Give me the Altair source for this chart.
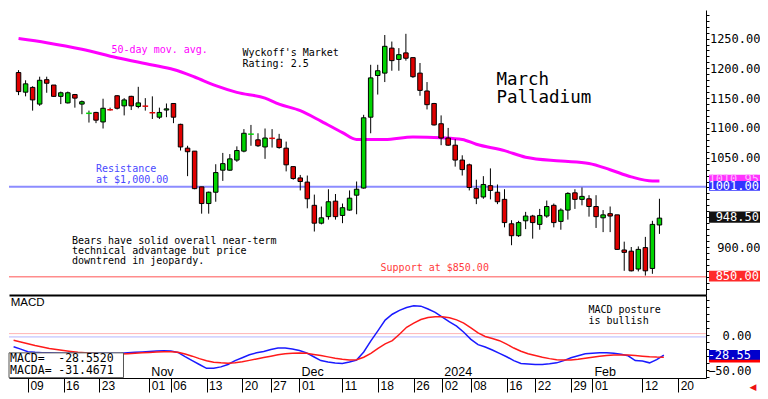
import json
import altair as alt
import pandas as pd

# ---------------- data ----------------
dates = [
    "2023-10-05", "2023-10-06", "2023-10-09", "2023-10-10", "2023-10-11", "2023-10-12", "2023-10-13",
    "2023-10-16", "2023-10-17", "2023-10-18", "2023-10-19", "2023-10-20", "2023-10-23", "2023-10-24",
    "2023-10-25", "2023-10-26", "2023-10-27", "2023-10-30", "2023-10-31",
    "2023-11-01", "2023-11-02", "2023-11-03", "2023-11-06", "2023-11-07", "2023-11-08", "2023-11-09",
    "2023-11-10", "2023-11-13", "2023-11-14", "2023-11-15", "2023-11-16", "2023-11-17", "2023-11-20",
    "2023-11-21", "2023-11-22", "2023-11-24", "2023-11-27", "2023-11-28", "2023-11-29", "2023-11-30",
    "2023-12-01", "2023-12-04", "2023-12-05", "2023-12-06", "2023-12-07", "2023-12-08", "2023-12-11",
    "2023-12-12", "2023-12-13", "2023-12-14", "2023-12-15", "2023-12-18", "2023-12-19", "2023-12-20",
    "2023-12-21", "2023-12-22", "2023-12-26", "2023-12-27", "2023-12-28", "2023-12-29",
    "2024-01-02", "2024-01-03", "2024-01-04", "2024-01-05", "2024-01-08", "2024-01-09", "2024-01-10",
    "2024-01-11", "2024-01-12", "2024-01-16", "2024-01-17", "2024-01-18", "2024-01-19", "2024-01-22",
    "2024-01-23", "2024-01-24", "2024-01-25", "2024-01-26", "2024-01-29", "2024-01-30", "2024-01-31",
    "2024-02-01", "2024-02-02", "2024-02-05", "2024-02-06", "2024-02-07", "2024-02-08", "2024-02-09",
    "2024-02-12", "2024-02-13", "2024-02-14", "2024-02-15",
]

opens = [1193, 1160, 1168, 1140, 1181, 1172, 1153, 1142, 1156, 1140,
         1124, 1126, 1110, 1131, 1154, 1137, 1153, 1136, 1137, 1126,
         1118, 1130, 1141, 1106, 1066, 1061, 1001, 973, 992, 1029,
         1029, 1046, 1061, 1089, 1080, 1068, 1083, 1081, 1066, 1035,
         1016, 1009, 970, 940, 951, 977, 953, 962, 987, 999,
         1118, 1188, 1192, 1234, 1215, 1226, 1218, 1192, 1162, 1141,
         1107, 1083, 1071, 1046, 1038, 998, 984, 1003, 992, 980,
         939, 919, 944, 952, 938, 952, 970, 943, 962, 991,
         980, 981, 968, 949, 956, 954, 895, 893, 863, 899,
         864, 937]
highs = [1197, 1180, 1170, 1186, 1186, 1172, 1161, 1161, 1157, 1146,
         1129, 1127, 1149, 1134, 1155, 1150, 1154, 1169, 1150, 1153,
         1134, 1141, 1141, 1107, 1070, 1061, 1001, 993, 1039, 1058,
         1056, 1069, 1098, 1105, 1091, 1099, 1098, 1090, 1077, 1035,
         1021, 1020, 988, 968, 997, 989, 973, 995, 1010, 1122,
         1206, 1206, 1256, 1245, 1234, 1258, 1218, 1209, 1177, 1142,
         1121, 1100, 1081, 1054, 1040, 1013, 1019, 1032, 1005, 997,
         945, 944, 959, 954, 964, 978, 973, 965, 992, 997,
         1000, 987, 987, 962, 968, 954, 909, 900, 901, 917,
         944, 981]
lows = [1155, 1153, 1129, 1137, 1159, 1152, 1140, 1141, 1134, 1123,
        1109, 1108, 1099, 1129, 1131, 1121, 1130, 1133, 1129, 1115,
        1115, 1118, 1108, 1062, 1019, 997, 956, 956, 976, 1011,
        1028, 1043, 1059, 1070, 1068, 1048, 1067, 1065, 1027, 1013,
        995, 965, 926, 938, 946, 946, 940, 961, 955, 998,
        1091, 1156, 1177, 1196, 1196, 1213, 1184, 1154, 1131, 1104,
        1071, 1070, 1035, 1020, 995, 972, 981, 980, 972, 933,
        903, 917, 930, 914, 929, 949, 933, 929, 946, 964,
        970, 951, 932, 925, 925, 895, 860, 859, 859, 852,
        855, 922]
closes = [1161, 1174, 1147, 1180, 1175, 1153, 1159, 1159, 1150, 1144,
          1124.5, 1113, 1133, 1130.5, 1133, 1147, 1137, 1142, 1136.5, 1125.5,
          1126, 1132, 1118, 1068, 1060, 998, 973, 992, 1025, 1040,
          1048, 1062, 1091, 1089.5, 1070, 1083, 1082.5, 1067, 1038, 1015,
          1010, 981, 940, 949, 976, 951, 966, 982, 997, 1117,
          1184, 1196, 1237, 1213, 1223, 1217, 1186, 1163, 1139, 1105,
          1083, 1071, 1046, 1030, 1000, 982, 1005, 995, 976, 941,
          919, 941, 952, 941, 953, 968, 941, 962, 990, 980,
          985, 968, 951, 954, 952, 896, 891, 860, 896, 860,
          938, 948.5]

macd = [-16.7, -20, -23.6, -24.5, -25, -25.3, -25.5, -25.8, -26, -26,
        -26, -26, -26, -26, -26, -25.8, -25.2, -24.5, -24, -23.3,
        -22.6, -22.2, -22.5, -24.7, -30.8, -36.3, -41.8, -47.3, -47.3, -45.2,
        -41.8, -36.3, -32.2, -28, -25.3, -23.3, -20.5, -18.5, -18.5, -19.9,
        -21.9, -25.3, -30.8, -36.3, -38.4, -39.7, -40.4, -38.4, -35.6, -24.1,
        -8.4, 6.2, 21.2, 29.5, 35, 39, 41.4, 41, 37, 32.2,
        25.3, 18.5, 12.5, 4, -6.2, -13.7, -17, -21.2, -26, -30.8,
        -36.3, -40.4, -41, -41.8, -41.8, -40.8, -39.5, -36.3, -32.2, -29.5,
        -26.7, -25.8, -25.3, -25.3, -25.8, -27.4, -29.5, -36.3, -37, -39.5,
        -35, -28.6]
signal = [-7.5, -10, -12.5, -15, -17, -19, -20.5, -22, -23.3, -24.5,
          -25.3, -26, -26.5, -26.8, -27, -27, -26.5, -26, -25.3, -24.7,
          -24.2, -23.8, -23.6, -24.5, -27, -30, -33.5, -36.5, -38.5, -39.5,
          -40, -39.5, -38, -36, -34, -32, -30, -28, -26.5, -25.8,
          -25.5, -26, -27.5, -29, -31, -33, -34.5, -35.5, -35, -31.5,
          -26, -19, -12.5, -8, 1, 11, 17, 22, 25, 26,
          26, 24.5, 21.5, 17, 10, 3, -2, -5, -8, -13,
          -18.5, -23, -26.5, -29, -31.5, -33.5, -35, -35.3, -35.3, -34.5,
          -33, -31.5, -30, -29, -28.3, -28.2, -28.5, -29, -30, -30.8,
          -31.3, -31.5]

ma_idx = [0, 4, 9, 14, 19, 22, 25, 28, 31, 35, 37, 40, 43, 46, 48, 52, 56, 60,
          63, 65, 69, 72, 77, 81, 84, 87, 90, 91]
ma_val = [1250, 1243, 1232, 1217.7, 1205.6, 1198, 1185.5, 1171, 1159.7, 1150,
          1140, 1129, 1111, 1092, 1080.6, 1080.6, 1084.7, 1083.4, 1080.6, 1072.6,
          1061.8, 1050.8, 1044.4, 1040.3, 1029.8, 1017.7, 1010.8, 1010.95]

tick_idx = [2, 7, 12, 19, 22, 27, 32, 36, 40, 46, 51, 56, 60, 64, 69, 73, 78, 81, 88, 93]
tick_lbl = ["09", "16", "23", "01", "06", "13", "20", "27", "01", "11",
            "18", "26", "02", "08", "16", "22", "29", "01", "12", "20"]
month_idx = [19, 40, 60, 81]
month_lbl = ["Nov", "Dec", "2024", "Feb"]

main_label_vals = [900, 1050, 1100, 1150, 1200, 1250]
macd_label_vals = [0, -50]
resistance = 1001.00
support = 850.00
ma_last = 1010.95
last_close = 948.50
macd_last = -28.5520
macda_last = -31.4671

# ---------------- layout / style ----------------
W = 697
H_MAIN = 285
H_MACD = 83
MONO = "DejaVu Sans Mono"
SANS = "Liberation Sans"
GREEN = "#00d400"
RED = "#e00000"
MAG = "#ff00ff"

df = pd.DataFrame({"idx": list(range(len(dates))), "date": dates, "open": opens,
                   "high": highs, "low": lows, "close": closes,
                   "macd": macd, "signal": signal})
ma_df = pd.DataFrame({"idx": ma_idx, "ma": ma_val})
month_df = pd.DataFrame({"idx": month_idx, "lbl": month_lbl})
one = pd.DataFrame({"k": [0]})

xscale = alt.Scale(domain=[-0.644, 96.9], nice=False, zero=False)
x_axis_main = alt.Axis(title=None, labels=False, ticks=False, grid=False, domain=True,
                       domainColor="black", domainWidth=2)
lab_arr = [""] * 100
for i, l in zip(tick_idx, tick_lbl):
    lab_arr[i] = l
x_axis_macd = alt.Axis(title=None, values=tick_idx, labelExpr=f"{json.dumps(lab_arr)}[datum.value]",
                       grid=False, domain=True, domainColor="black", domainWidth=1,
                       ticks=True, tickSize=14, tickColor="black", tickWidth=1,
                       labelAlign="left", labelBaseline="middle", labelPadding=-7, labelOffset=2,
                       labelFont=SANS, labelFontSize=12, labelColor="black",
                       labelOverlap=False, labelFlush=False, labelBound=False)

y_main_scale = alt.Scale(domain=[819.4, 1298], nice=False, zero=False)
y_axis_main = alt.Axis(orient="right", title=None, grid=False, values=list(range(830, 1300, 10)),
                       labelExpr=f"indexof({json.dumps(main_label_vals)}, datum.value) >= 0 ? format(datum.value, '.2f') : ''",
                       tickSize=3, tickColor="black", domainColor="black",
                       labelFont=MONO, labelFontSize=12, labelColor="black", labelAlign="right",
                       labelBaseline="middle", labelPadding=51, labelOverlap=False, labelFlush=False)
y_macd_scale = alt.Scale(domain=[-61, 56.8], nice=False, zero=False)
y_axis_macd = alt.Axis(orient="right", title=None, grid=False, values=list(range(-60, 60, 10)),
                       labelExpr=f"indexof({json.dumps(macd_label_vals)}, datum.value) >= 0 ? format(datum.value, '.2f') : ''",
                       tickSize=3, tickColor="black", domainColor="black",
                       labelFont=MONO, labelFontSize=12, labelColor="black", labelAlign="right",
                       labelBaseline="middle", labelPadding=42, labelOverlap=False, labelFlush=False)


def xm(field):
    return alt.X(field, type="quantitative", scale=xscale, axis=x_axis_main)


def xmd(val):
    return alt.X(datum=val, type="quantitative", scale=xscale, axis=x_axis_main)


def ym(field):
    return alt.Y(field, type="quantitative", scale=y_main_scale, axis=y_axis_main)


def ymd(val):
    return alt.Y(datum=val, type="quantitative", scale=y_main_scale, axis=y_axis_main)


def xb(field):
    return alt.X(field, type="quantitative", scale=xscale, axis=x_axis_macd)


def xbd(val):
    return alt.X(datum=val, type="quantitative", scale=xscale, axis=x_axis_macd)


def yb(field):
    return alt.Y(field, type="quantitative", scale=y_macd_scale, axis=y_axis_macd)


def ybd(val):
    return alt.Y(datum=val, type="quantitative", scale=y_macd_scale, axis=y_axis_macd)


def note_main(txt, xi, yv, color="black", size=10, font=MONO, align="left"):
    return alt.Chart(one).mark_text(text=txt, align=align, baseline="middle", font=font,
                                    fontSize=size, color=color).encode(x=xmd(xi), y=ymd(yv))


def note_macd(txt, xi, yv, color="black", size=10, font=MONO, align="left"):
    return alt.Chart(one).mark_text(text=txt, align=align, baseline="middle", font=font,
                                    fontSize=size, color=color).encode(x=xbd(xi), y=ybd(yv))


dir_expr = "datum.close >= datum.open ? 'up' : 'down'"
color_enc = alt.Color("dir:N", scale=alt.Scale(domain=["up", "down"], range=[GREEN, RED]), legend=None)

# ---------------- main panel ----------------
res_line = alt.Chart(one).mark_rule(color="#8c8cff", strokeWidth=2).encode(y=ymd(resistance))
sup_line = alt.Chart(one).mark_rule(color="#ff8c8c", strokeWidth=1.5).encode(y=ymd(support))
ma_line = alt.Chart(ma_df).mark_line(color=MAG, strokeWidth=3, interpolate="monotone").encode(
    x=xm("idx"), y=ym("ma"))
wicks = alt.Chart(df).mark_rule(color="black", strokeWidth=1).encode(
    x=xm("idx"), y=ym("low"), y2=alt.Y2("high"))
bodies = alt.Chart(df).transform_filter("abs(datum.close - datum.open) >= 1.5").transform_calculate(
    dir=dir_expr).mark_bar(size=4.5, stroke="black", strokeWidth=1).encode(
    x=xm("idx"), y=ym("open"), y2=alt.Y2("close"), color=color_enc)
dojis = alt.Chart(df).transform_filter("abs(datum.close - datum.open) < 1.5").transform_calculate(
    dir=dir_expr, xa="datum.idx - 0.4", xb="datum.idx + 0.4").mark_rule(strokeWidth=1.5).encode(
    x=xm("xa"), x2=alt.X2("xb"), y=ym("close"), color=color_enc)


def tag_main(val, half_lo, half_hi, fill, label, tcolor, text_at=None):
    base = alt.Chart(pd.DataFrame({"v": [val]})).transform_calculate(
        lo=f"datum.v - {half_lo}", hi=f"datum.v + {half_hi}",
        tv=f"datum.v + {0 if text_at is None else text_at}")
    r = base.mark_rect(fill=fill).encode(x=alt.value(W + 3), x2=alt.value(W + 54),
                                          y=ym("lo"), y2=alt.Y2("hi"))
    t = base.mark_text(text=label, align="right", baseline="middle", font=MONO, fontSize=12,
                       color=tcolor).encode(x=alt.value(W + 53), y=ym("tv"))
    return [r, t]


tags = []
tags += tag_main(ma_last, 10, 10.5, "#ff33ff", "1010.95", "#ffb3ff", text_at=4)
tags += tag_main(resistance, 6.5, 9.8, "#3333ff", "1001.00", "white", text_at=1)
tags += tag_main(last_close, 7.7, 11.2, "#111111", "948.50", "white", text_at=1.5)
tags += tag_main(support, 8, 10, "#ff2a2a", "850.00", "white", text_at=1)

notes_main = [
    note_main("50-day mov. avg.", 13.2, 1230.6, color=MAG),
    note_main("Wyckoff's Market", 31.8, 1225.8),
    note_main("Rating: 2.5", 31.8, 1208),
    note_main("March", 67.85, 1180.6, size=17.5),
    note_main("Palladium", 67.85, 1149.5, size=17.5),
    note_main("Resistance", 11.0, 1030.6, color="#4848ff"),
    note_main("at $1,000.00", 11.0, 1012.9, color="#4848ff"),
    note_main("Bears have solid overall near-term", 7.58, 909.7),
    note_main("technical advantage but price", 7.58, 892.5),
    note_main("downtrend in jeopardy.", 7.58, 875.8),
    note_main("Support at $850.00", 51.4, 864.5, color="#ff3b3b"),
]

main = alt.layer(res_line, sup_line, ma_line, wicks, bodies, dojis, *notes_main, *tags).properties(
    width=W, height=H_MAIN)

# ---------------- MACD panel ----------------
zero_pink = alt.Chart(one).mark_rule(color="#ffb4b4", strokeWidth=1).encode(y=ybd(2.0))
zero_blue = alt.Chart(one).mark_rule(color="#b4b4ff", strokeWidth=1).encode(y=ybd(-2.7))
macd_line = alt.Chart(df).mark_line(color="#1a1aff", strokeWidth=1.5).encode(x=xb("idx"), y=yb("macd"))
sig_line = alt.Chart(df).mark_line(color="#ff1a1a", strokeWidth=1.5).encode(x=xb("idx"), y=yb("signal"))
legend_box = alt.Chart(one).mark_rect(fill="white", stroke="#555555", strokeWidth=1).encode(
    x=xbd(-0.644), x2=alt.X2(datum=15.38), y=ybd(-25.3), y2=alt.Y2(datum=-60.5))
months = alt.Chart(month_df).mark_text(align="left", baseline="middle", dx=2, font=SANS,
                                       fontSize=12.5, color="black").encode(
    x=xb("idx"), y=ybd(-52.7), text="lbl:N")


def tag_macd(val, half_lo, half_hi, fill, label=None):
    base = alt.Chart(pd.DataFrame({"v": [val]})).transform_calculate(
        lo=f"datum.v - {half_lo}", hi=f"datum.v + {half_hi}", tv="datum.v + 0.5")
    out = [base.mark_rect(fill=fill).encode(x=alt.value(W + 3), x2=alt.value(W + 54),
                                            y=yb("lo"), y2=alt.Y2("hi"))]
    if label:
        out.append(base.mark_text(text=label, align="right", baseline="middle", font=MONO,
                                  fontSize=12, color="white").encode(x=alt.value(W + 45), y=yb("tv")))
    return out


macd_tags = tag_macd(macda_last, 7.5, 7.5, "#ff0000") + tag_macd(macd_last, 6.5, 7.3, "#0000cc",
                                                                  f"{macd_last:.2f}")
arrow = alt.Chart(one).mark_text(text="◀", color="#ee1111", fontSize=9, font="DejaVu Sans").encode(
    x=alt.value(W + 47), y=alt.value(H_MACD + 9))

notes_macd = [
    note_macd("MACD", -0.4, 45.9, font=SANS, size=11.5),
    note_macd("MACD posture", 80.45, 34.9),
    note_macd("is bullish", 80.45, 19.9),
    note_macd("MACD=", -0.5, -33.6, size=11.5),
    note_macd(f"{macd_last:.4f}", 14.0, -33.6, size=11.5, align="right"),
    note_macd("MACDA=", -0.5, -51.4, size=11.5),
    note_macd(f"{macda_last:.4f}", 14.0, -51.4, size=11.5, align="right"),
]

macd_chart = alt.layer(zero_pink, zero_blue, macd_line, sig_line, months, legend_box,
                       *notes_macd, *macd_tags, arrow).properties(width=W, height=H_MACD)

chart = alt.vconcat(main, macd_chart, spacing=0, bounds="flush").properties(
    padding=0, background="white").configure_view(stroke=None)

chart.save("out.html", embed_options={"renderer": "svg", "actions": False})
